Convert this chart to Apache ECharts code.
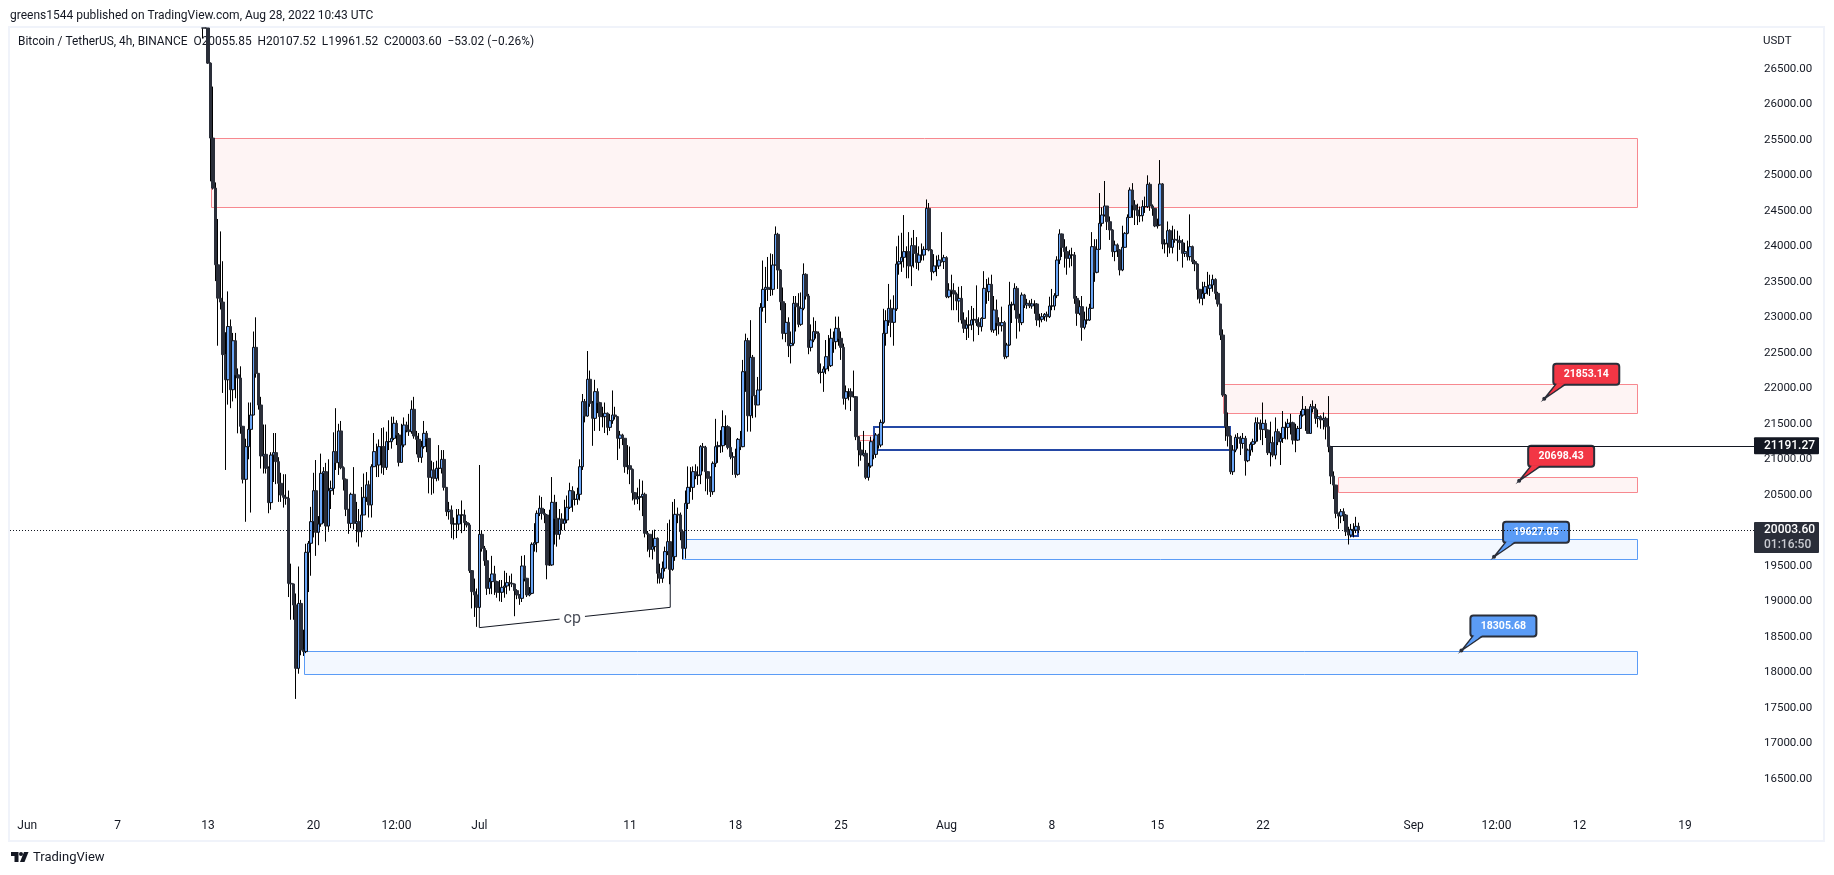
<!DOCTYPE html>
<html><head><meta charset="utf-8"><style>html,body{margin:0;padding:0;background:#fff}#c{width:1834px;height:875px}</style>
<script src="https://cdn.jsdelivr.net/npm/echarts@6/dist/echarts.min.js"></script></head><body><div id="c"></div>
<script>
const firstOpen = 27075;
const closes = [27075,27075,
26580,25525,24820,23740,23270,23215,22475,22120,22870,21980,
22670,22190,22145,21465,20718,21178,21422,21624,22577,22211,
21765,21047,21070,20873,20390,21060,21094,20967,20662,20497,
20465,20450,19253,19244,18948,18056,18970,18314,18291,19690,
19817,20122,20558,19972,20089,20803,20826,20060,20558,20591,
21108,20953,21399,20882,20718,20296,20098,20507,20098,20122,
19980,20216,20465,20640,20357,20896,21108,20920,21178,21178,
20887,21249,21249,21295,21507,21343,20957,21202,21483,21413,
21390,21704,21328,21281,21028,21178,21366,21295,20746,20850,
20732,20873,20873,20999,20605,20263,20286,20089,20089,20089,
20216,20216,20108,20075,19432,19136,19089,18915,19943,19746,
19572,19183,19277,19385,19277,19127,19127,19197,19216,19263,
19253,19244,19150,19089,19042,19497,19324,19089,19112,19803,
19826,20239,20310,20239,20216,19512,19512,20394,20169,19943,
20159,20098,20145,20324,20558,20436,20436,20507,20896,21812,
21610,22127,21789,21577,21953,21798,21601,21601,21648,21450,
21544,21624,21601,21296,21342,21296,20896,20910,20859,20530,
20441,20465,20474,20507,19958,19944,19732,19770,19887,19394,
19324,19465,19700,19840,19450,19629,20225,20216,19981,19746,
20380,20605,20605,20826,20770,20779,21178,21168,20826,20732,
20544,20943,21178,21192,21192,21460,21460,21168,21037,21028,
20788,21281,21178,22234,22671,21614,22436,21896,21765,21976,
23140,23394,23422,23394,23394,23737,24169,23666,23220,22774,
22929,22600,22633,23197,23150,22901,23126,23605,23300,22577,
22680,22798,22774,22225,22225,22272,22445,22319,22704,22657,
22845,22704,22577,21859,21952,21952,21882,21882,21319,21131,
21061,21084,20746,20906,21248,21070,21342,21201,21520,22774,
22953,23126,22929,23117,23751,23784,23845,23925,23925,23723,
24009,23901,23774,23877,23877,23957,24535,23948,23643,23723,
23723,23807,23784,23840,23290,23384,23375,23328,23230,23267,
22962,22845,22892,22892,22962,22971,22924,22868,22985,23408,
23361,23464,22821,23103,22925,22882,22925,22446,22610,23173,
23183,23408,22986,22925,23314,23173,23197,23160,23188,23188,
22962,22972,23009,23042,23009,23159,23159,23305,23807,24174,
23986,23925,23831,23878,23878,23267,23056,23150,22859,22962,
22962,23127,23995,23634,23958,24324,24441,24568,24347,24230,
23925,24019,23948,23667,23986,24183,24408,24793,24582,24512,
24432,24432,24559,24559,24873,24568,24535,24286,24300,24878,
24033,24042,24220,23986,24098,24089,24080,24052,23901,23925,
23854,23995,23784,23751,23394,23267,23337,23431,23408,23455,
23534,23337,23187,22750,21905,21459,21328,20825,21130,21309,
21295,21224,21295,20980,21130,21210,21248,21515,21506,21422,
21506,21412,21093,21234,21060,21389,21248,21295,21450,21450,
21506,21515,21271,21271,21435,21623,21703,21703,21365,21741,
21717,21577,21600,21553,21577,21459,21178,20764,20637,20238,
20201,20262,20215,19980,19933,20013,20004,20055.85,20003.6];
const highs = [27075,27075,
27075,26590,26250,24900,24385,24210,23790,22790,23365,22970,
22780,22780,22280,22310,21470,21290,21800,21800,22800,23000,
22210,21880,21490,21490,20900,21100,21370,21370,21030,20810,
20790,20790,20560,19530,19250,19110,19490,19020,18600,19810,
19850,20330,20810,20990,20200,21080,20890,20950,21000,20700,
21380,21720,21500,21540,20900,20730,20300,20530,20890,20400,
20300,20610,20800,20820,20700,20930,21370,21220,21280,21440,
21450,21390,21550,21600,21600,21550,21370,21500,21590,21530,
21640,21830,21880,21400,21370,21260,21540,21400,21300,20980,
20960,20980,21200,21130,21130,20610,20400,20350,20180,20300,
20300,20420,20290,20130,20100,19440,19320,19180,20920,19990,
19780,19720,19330,19640,19500,19290,19300,19300,19430,19400,
19360,19390,19250,19170,19100,19640,19650,19330,19200,19830,
20100,20280,20490,20470,20300,20230,20290,20750,20500,20400,
20300,20240,20430,20490,20670,20620,20550,20600,21000,21920,
21850,22525,22250,21820,22120,22000,21810,21740,21800,21660,
21640,21970,21740,21610,21400,21360,21300,21200,21180,20870,
20540,20600,20720,20700,20530,19990,19940,20000,20010,19900,
19530,19560,19770,20100,20150,20400,20440,20320,20250,20010,
20560,20900,20890,20900,20930,20900,21200,21230,21190,20830,
20760,20970,21570,21250,21410,21690,21620,21480,21450,21100,
21150,21300,21400,22400,22770,22710,22960,22470,21900,22160,
23200,23800,23710,23850,23900,23890,24280,24190,23680,23420,
23200,23000,22800,23300,23300,23340,23350,23760,23620,23330,
22900,23000,22950,22800,22350,22310,22680,22750,22840,22800,
23010,23010,22800,22630,22040,22000,22000,22250,21890,21330,
21250,21400,21130,20950,21320,21290,21370,21360,21560,23120,
23100,23470,23250,23310,24000,24150,24190,24440,24000,24200,
24120,24230,24130,24000,24040,24000,24660,24610,23960,23890,
23870,23880,24200,23880,23860,23480,23600,23480,23350,23430,
23440,23070,23000,23100,23160,23130,23450,23000,23000,23650,
23540,23560,23600,23300,23250,23000,23150,22950,22640,23500,
23220,23480,23440,23050,23350,23330,23260,23240,23260,23240,
23200,23050,23060,23060,23080,23290,23400,23340,23860,24240,
24180,24100,24000,23950,23980,23920,23300,23240,23300,23080,
23150,23190,24200,24100,24100,24750,24550,24920,24560,24420,
24240,24080,24040,23960,24290,24200,24450,24830,24890,24650,
24600,24560,24650,24700,25000,24900,24590,24540,24390,25215,
24890,24100,24350,24240,24290,24240,24220,24150,24100,24050,
24080,24450,24010,23810,23760,23400,23500,23500,23640,23600,
23600,23550,23360,23190,22830,21920,21660,21340,21200,21350,
21370,21330,21370,21330,21150,21240,21290,21590,21590,21560,
21800,21560,21420,21530,21320,21590,21430,21370,21680,21530,
21570,21640,21530,21500,21470,21680,21890,21750,21710,21780,
21830,21780,21700,21620,21660,21600,21890,21190,20830,20640,
20250,20300,20310,20230,20050,20090,20100,20190,20107.52];
const lows = [26930,27075,
26570,24915,24800,23510,22600,23110,21935,20850,21770,21720,
21815,21860,21366,21360,20660,20120,21000,20250,21620,22150,
21700,20870,20800,20800,20240,20290,20680,20650,20400,20400,
20320,20360,19060,18740,18740,17625,17980,18240,18230,18270,
19130,19360,19900,19640,19790,20050,20100,19840,19980,20300,
20500,20850,20780,20860,20560,20200,19950,20030,20010,19830,
19770,19900,20220,20400,20180,20180,20890,20750,20750,20800,
20780,20850,21130,21150,21270,21200,20900,20950,21170,21380,
21330,21360,21290,21070,20960,20950,21150,21100,20520,20500,
20520,20690,20700,20800,20560,20200,20150,19890,19870,19890,
20000,19960,19990,20040,19400,18900,18780,18640,18900,19700,
19500,19090,19100,19100,19090,19050,19000,18990,19050,19100,
19150,19200,18790,19030,18950,18990,19280,19060,19070,19100,
19700,19690,20200,20150,20100,19310,19500,19500,19800,19770,
19870,20000,20000,20100,20300,20260,20350,20360,20420,20850,
21520,21600,21740,21190,21400,21650,21400,21450,21370,21340,
21400,21500,21560,20990,21150,21200,20810,20790,20650,20420,
20360,20370,20280,20200,19900,19700,19620,19590,19700,19250,
19250,19260,19420,19650,19240,19430,19570,20100,19860,19590,
19600,20300,20540,20430,20720,20640,20650,20830,20550,20500,
20470,20500,20890,20950,21090,21100,21200,21140,21000,20780,
20740,20770,21130,21170,21950,21390,21390,21580,21590,21770,
21970,23080,22920,23230,23300,23310,23730,23400,23100,22690,
22650,22440,22350,22600,22800,22860,22880,23100,23250,22480,
22520,22650,22700,22200,22070,21950,22200,22240,22300,22500,
22550,22600,22400,21770,21700,21830,21680,21870,21270,20900,
20980,21040,20720,20700,20880,21000,21020,21150,21170,21500,
22600,22880,22720,22600,23090,23600,23640,23700,23550,23550,
23440,23700,23680,23660,23800,23800,23950,23930,23520,23620,
23580,23680,23770,23680,23270,23270,23100,23100,23100,22930,
22910,22780,22680,22710,22820,22660,22880,22750,22800,22980,
23190,23230,22790,22780,22740,22760,22800,22410,22420,22600,
22920,23100,22700,22800,22890,23130,23120,23130,23120,23050,
22880,22860,22930,22950,22940,22990,23100,23100,23270,23750,
23850,23700,23600,23700,23720,23190,22880,23030,22670,22830,
22900,22950,23120,23500,23620,23950,24280,24420,24230,24090,
23850,23790,23850,23590,23650,23980,24170,24400,24400,24300,
24300,24340,24350,24470,24540,24500,24430,24270,24250,24290,
23960,23900,23850,23900,23900,24050,23790,23950,23700,23850,
23800,23800,23750,23650,23250,23196,23170,23260,23320,23300,
23360,23250,23150,22680,21880,21260,21180,20790,20780,21100,
21150,21060,21150,20770,20960,21050,21100,21220,21250,21270,
21200,21300,21060,20900,21030,21000,21200,20920,21230,21280,
21280,21350,21210,21100,21260,21430,21600,21400,21360,21365,
21660,21500,21450,21430,21420,21280,21100,20650,20440,20170,
20020,20100,20130,19920,19800,19900,19900,19960,19961.52];

// Bars sit on a 4-hour grid; the first plotted close belongs to category 77.
const barHours = 4, barCount = 695, firstBarIndex = 77;
const gridStart = Date.UTC(2022, 4, 30, 20);
const tickDates  = ['06-01 00','06-07 00','06-13 00','06-20 00','06-25 12','07-01 00','07-11 00','07-18 00','07-25 00','08-01 00','08-08 00','08-15 00','08-22 00','09-01 00','09-06 12','09-12 00','09-19 00'];
const tickLabels = ['Jun','7','13','20','12:00','Jul','11','18','25','Aug','8','15','22','Sep','12:00','12','19'];
const priceTicks = [16500,17000,17500,18000,18500,19000,19500,20000,20500,21000,21500,22000,22500,23000,23500,24000,24500,25000,25500,26000,26500];

// zones: first category, last category, upper price, lower price
const redZones  = [[80,648,25521,24558],[483,648,22055,21647],[529,648,20746,20546],[338,344,21337,21267]];
const blueZones = [[268,648,19873,19600],[117,648,18305,17972]];
const navyBoxes = [[344,486,21459,21135],[534,537,20004,19919]];
// callouts: category, price, text, kind
const calloutIndex = [611,601,591,578];
const calloutPrice = [21853.14,20698.43,19627.05,18305.68];
const calloutText  = ['21853.14','20698.43','19627.05','18305.68'];
const calloutFill  = ['#f23645','#f23645','#5b9cf6','#5b9cf6'];
const cpIndex = [187,187,263,263];
const cpPrice = [18915,18629,18915,19450];
const cpLabelAt = [224,18755];
const lastPrice = 20003.60, lineStart = 526, linePrice = 21191.27;

const categories = [];
for (let i = 0; i < barCount; i++) {
  const d = new Date(gridStart + i * barHours * 3600000);
  const p = n => String(n).padStart(2, '0');
  categories.push(p(d.getUTCMonth() + 1) + '-' + p(d.getUTCDate()) + ' ' + p(d.getUTCHours()));
}
const tickMap = {};
tickDates.forEach((d, i) => { tickMap[d] = tickLabels[i]; });

const bar = (i) => {
  const k = i - firstBarIndex;
  if (k < 0 || k >= closes.length) return null;
  return { o: k === 0 ? firstOpen : closes[k - 1], c: closes[k], l: lows[k], h: highs[k] };
};
// wick layer carries the full range, body layer only open and close
const wicks = categories.map((c, i) => { const b = bar(i); return b ? [b.o, b.c, b.l, b.h] : '-'; });
const bodies = categories.map((c, i) => { const b = bar(i); return b ? [b.o, b.c, Math.min(b.o, b.c), Math.max(b.o, b.c)] : '-'; });

const FONT = 'Roboto, "Noto Sans", sans-serif';
const INK = '#131722', SLATE = '#2a2e39';

function rectFrom(z, api, lw) {
  const off = lw % 2 ? .5 : 0;
  const a = api.coord([z[0], z[2]]), b = api.coord([z[1], z[3]]);
  const x = Math.round(a[0]) + off, y = Math.round(a[1]) + off;
  return { x, y, width: Math.round(b[0]) + off - x, height: Math.round(b[1]) + off - y };
}
function zoneSeries(list, fill, stroke, z, lw) {
  return { type: 'custom', z, silent: true, data: list.map((r, i) => [i]), encode: { x: 0 },
    renderItem: (p, api) => ({ type: 'rect', shape: rectFrom(list[p.dataIndex], api, lw),
      style: { fill, stroke, lineWidth: lw } }) };
}
function calloutItem(p, api) {
  const i = p.dataIndex, a = api.coord([calloutIndex[i], calloutPrice[i]]);
  const ax = a[0], ay = a[1], f = calloutFill[i], b = SLATE;
  return { type: 'group', children: [
    { type: 'polygon', shape: { points: [[ax, ay], [ax + 12, ay - 15], [ax + 22, ay - 15]] }, style: { fill: f, stroke: b, lineWidth: 1.5 } },
    { type: 'rect', shape: { x: ax + 9, y: ay - 35, width: 66, height: 21, r: 3 }, style: { fill: f, stroke: b, lineWidth: 2 } },
    { type: 'polygon', shape: { points: [[ax + 13, ay - 15.5], [ax + 21, ay - 15.5], [ax + 5, ay - 4]] }, style: { fill: f } },
    { type: 'circle', shape: { cx: ax, cy: ay, r: 2 }, style: { fill: b } },
    { type: 'text', style: { x: ax + 42, y: ay - 24.5, text: calloutText[i], fill: '#fff', font: 'bold 10.5px ' + FONT, align: 'center', verticalAlign: 'middle' } }
  ] };
}

const chart = echarts.init(document.getElementById('c'), null, { renderer: 'canvas' });
chart.setOption({
  animation: false, backgroundColor: '#fff',
  grid: { left: 8.4, top: 28, width: 1745.6, height: 787, containLabel: false },
  xAxis: { type: 'category', data: categories, boundaryGap: true,
    axisLine: { show: false }, axisTick: { show: false }, splitLine: { show: false },
    axisLabel: { interval: (i, v) => v in tickMap, formatter: v => tickMap[v], margin: 5, color: INK, fontFamily: FONT, fontSize: 12, hideOverlap: false } },
  yAxis: { type: 'value', position: 'right', min: 15990, max: 27075, scale: true,
    axisLine: { show: false }, axisTick: { show: false }, splitLine: { show: false },
    axisLabel: { customValues: priceTicks, formatter: v => v.toFixed(2), margin: 10, color: INK, fontFamily: FONT, fontSize: 11.5 } },
  graphic: [
    { type: 'rect', z: 0, silent: true, shape: { x: 9, y: 27, width: 1815, height: 814 }, style: { fill: 'none', stroke: '#f0f3fa', lineWidth: 2 } },
    { type: 'text', z: 0, x: 10, y: 10, style: { text: 'greens1544 published on TradingView.com, Aug 28, 2022 10:43 UTC', fill: INK, font: '12px ' + FONT } },
    { type: 'text', z: 0, x: 18, y: 36, style: { text: 'Bitcoin / TetherUS, 4h, BINANCE  O20055.85  H20107.52  L19961.52  C20003.60  −53.02 (−0.26%)', fill: INK, font: '11.9px ' + FONT } },
    { type: 'text', z: 0, x: 1763, y: 35, style: { text: 'USDT', fill: INK, font: '11.5px ' + FONT } },
    { type: 'text', z: 0, x: 33, y: 851, style: { text: 'TradingView', fill: INK, font: '13px ' + FONT } },
    { type: 'polygon', z: 0, shape: { points: [[11, 852], [18.5, 852], [18.5, 862], [14.5, 862], [14.5, 856], [11, 856]] }, style: { fill: INK } },
    { type: 'circle', z: 0, shape: { cx: 21, cy: 854, r: 2 }, style: { fill: INK } },
    { type: 'polygon', z: 0, shape: { points: [[24, 852], [28.5, 852], [24.5, 862], [20, 862]] }, style: { fill: INK } }
  ],
  series: [
    zoneSeries(redZones, '#fef4f4', '#f7888f', 1, 1),
    zoneSeries(blueZones, '#f3f8ff', '#5b9cf6', 1, 1),
    zoneSeries(navyBoxes, 'none', '#2448a5', 1, 2),
    { type: 'candlestick', z: 2, data: wicks, barWidth: 1, silent: true, large: false,
      itemStyle: { color: '#000', color0: '#000', borderColor: '#000', borderColor0: '#000', borderWidth: 1 } },
    { type: 'candlestick', z: 2, data: bodies, barWidth: 3, silent: true, large: false,
      itemStyle: { color: '#6aa6f8', color0: SLATE, borderColor: '#0b0e14', borderColor0: SLATE, borderWidth: 1 } },
    { type: 'custom', z: 3, silent: true, data: [0], encode: { x: 0 },
      renderItem: (p, api) => {
        const pts = cpIndex.map((x, i) => api.coord([x, cpPrice[i]]));
        const c = api.coord(cpLabelAt);
        return { type: 'group', children: [
          { type: 'polyline', shape: { points: pts }, style: { fill: 'none', stroke: INK, lineWidth: 1 } },
          { type: 'text', style: { x: c[0], y: c[1], text: 'cp', fill: '#4a4e59', font: '16px ' + FONT, align: 'center', verticalAlign: 'middle', backgroundColor: '#fff', padding: [0, 4] } }
        ] };
      } },
    { type: 'custom', z: 4, silent: true, data: calloutIndex.map(v => [v]), encode: { x: 0 }, renderItem: calloutItem },
    { type: 'custom', z: 5, silent: true, data: [0], encode: { x: 0 },
      renderItem: (p, api) => {
        const a = api.coord([0, lastPrice]);
        const c = api.coord([lineStart, linePrice]);
        const R = 1754;
        return { type: 'group', children: [
          { type: 'line', shape: { x1: 10, y1: Math.round(a[1]) + .5, x2: R, y2: Math.round(a[1]) + .5 }, style: { stroke: INK, lineWidth: 1, lineDash: [1, 2] } },
          { type: 'line', shape: { x1: c[0], y1: Math.round(c[1]) + .5, x2: R, y2: Math.round(c[1]) + .5 }, style: { stroke: INK, lineWidth: 1.2 } },
          { type: 'rect', shape: { x: R, y: c[1] - 8.5, width: 65, height: 17, r: 1 }, style: { fill: INK } },
          { type: 'text', style: { x: R + 10, y: c[1], text: linePrice.toFixed(2), fill: '#fff', font: '500 12px ' + FONT, verticalAlign: 'middle' } },
          { type: 'rect', shape: { x: R, y: a[1] - 8, width: 65, height: 31, r: 1 }, style: { fill: SLATE } },
          { type: 'text', style: { x: R + 10, y: a[1], text: lastPrice.toFixed(2), fill: '#fff', font: '500 12px ' + FONT, verticalAlign: 'middle' } },
          { type: 'text', style: { x: R + 10, y: a[1] + 15, text: '01:16:50', fill: '#c8cad0', font: '500 12px ' + FONT, verticalAlign: 'middle' } }
        ] };
      } }
  ]
});
</script></body></html>
